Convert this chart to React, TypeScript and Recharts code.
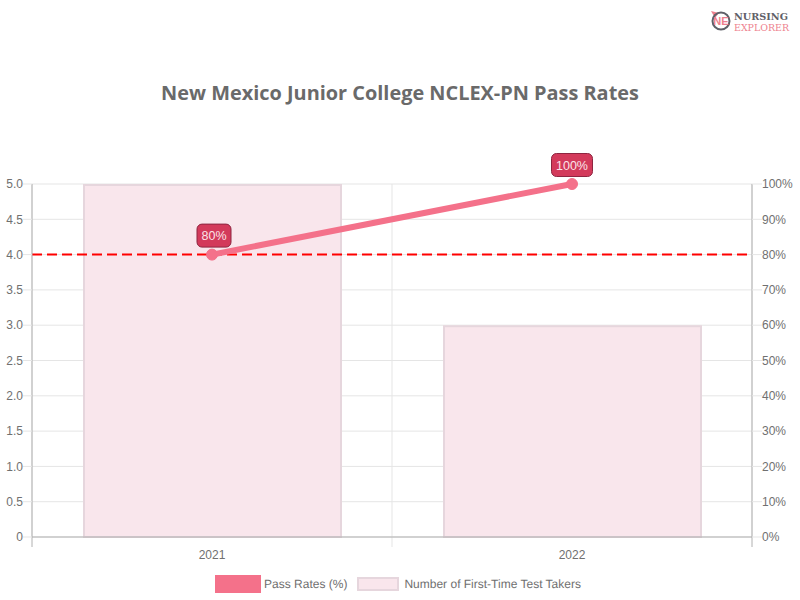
import React from 'react';
import {
    Bar,
    CartesianGrid,
    ComposedChart,
    Legend,
    LabelList,
    Line,
    ReferenceLine,
    XAxis,
    YAxis,
    usePlotArea,
} from 'recharts';

const years = ['2021', '2022'];
const testTakers = [5, 3];
const passRates = [80, 100];
const benchmark = 4;
const leftTicks = [0, 0.5, 1, 1.5, 2, 2.5, 3, 3.5, 4, 4.5, 5];
const rightTicks = [0, 10, 20, 30, 40, 50, 60, 70, 80, 90, 100];

const chartData = years.map((year, i) => ({
    year,
    takers: testTakers[i],
    rate: passRates[i],
}));

const FONT = '"Liberation Sans", Arial, sans-serif';
const TEXT = '#707070';
const GRID = '#e5e5e5';
const AXIS = '#b0b0b0';
const LINE_COLOR = '#f4718a';
const BAR_FILL = '#f9e6ec';
const BAR_STROKE = '#e6d6dd';

// boxes above the line points, chart.js datalabels style
const RateLabel = (props: any) => {
    const { x, y, value } = props;
    const short = String(value).length < 3;
    const w = short ? 34 : 41;
    const cx = short ? x + 2 : x;
    return (
        <g>
            <rect x={cx - w / 2} y={y - 30.5} width={w} height={23} rx={5} fill="#d33a5b" stroke="#8e2540" />
            <text x={cx} y={y - 14.5} textAnchor="middle" fontSize={12.5} fontFamily={FONT} fill="#fbe3e8">
                {value}%
            </text>
        </g>
    );
};

// chart.js draws the border inside the bar
const InsetBar = (props: any) => {
    const { x, y, width, height } = props;
    return (
        <rect
            x={x + 1}
            y={y + 1}
            width={width - 1}
            height={height - 1}
            fill={BAR_FILL}
            stroke={BAR_STROKE}
            strokeWidth={2}
        />
    );
};

// the category axis ticks sit on the band edges, not on the band centres
const BandTicks = () => {
    const plot = usePlotArea();
    if (!plot) return null;
    const band = plot.width / years.length;
    const bottom = plot.y + plot.height;
    return (
        <g>
            {[0, 1, 2].map((i) => (
                <line
                    key={i}
                    x1={plot.x + band * i}
                    x2={plot.x + band * i}
                    y1={bottom}
                    y2={bottom + 10}
                    stroke={i === 1 ? GRID : AXIS}
                />
            ))}
        </g>
    );
};

const ChartLegend = () => (
    <div
        style={{
            display: 'flex',
            justifyContent: 'center',
            alignItems: 'center',
            fontFamily: FONT,
            fontSize: 12,
            color: TEXT,
            height: 18,
            marginLeft: -4,
            textRendering: 'geometricPrecision',
        }}
    >
        <span style={{ width: 46, height: 18, background: LINE_COLOR, marginRight: 3 }} />
        <span style={{ marginRight: 10 }}>Pass Rates (%)</span>
        <span
            style={{
                width: 38,
                height: 10,
                background: BAR_FILL,
                border: `2px solid ${BAR_STROKE}`,
                marginRight: 5,
            }}
        />
        <span>Number of First-Time Test Takers</span>
    </div>
);

const Logo = () => (
    <svg width={90} height={30} style={{ position: 'absolute', left: 708, top: 7 }}>
        <path d="M3 4 L11 6 L7 11 Z" fill="#ee7f8e" />
        <circle cx={13} cy={14} r={8.5} fill="none" stroke="#5f6068" strokeWidth={2} />
        <text x={13} y={18} textAnchor="middle" fontSize={11} fontWeight={700} fontFamily={FONT} fill="#ee7f8e">
            NE
        </text>
        <text x={26} y={13} fontSize={9.5} fontWeight={700} fontFamily='"DejaVu Serif", serif' fill="#5f6068" textLength={54} lengthAdjust="spacingAndGlyphs">
            NURSING
        </text>
        <text x={26} y={24} fontSize={9} fontFamily='"DejaVu Serif", serif' fill="#ee7f8e" textLength={55} lengthAdjust="spacingAndGlyphs">
            EXPLORER
        </text>
    </svg>
);

const App = () => (
    <div style={{ position: 'absolute', left: 0, top: 0, width: 800, height: 600, background: '#fff' }}>
        <Logo />
        <div
            style={{
                position: 'absolute',
                top: 79,
                left: 0,
                width: 800,
                textAlign: 'center',
                fontFamily: '"Open Sans", sans-serif',
                fontWeight: 700,
                fontSize: 19.9,
                lineHeight: '27px',
                color: '#6a6a6a',
            }}
        >
            New Mexico Junior College NCLEX-PN Pass Rates
        </div>
        <ComposedChart
            width={800}
            height={600}
            data={chartData}
            margin={{ top: 184, right: 0, bottom: 0, left: 0 }}
            style={{ position: 'absolute', left: 0, top: 0 }}
        >
            <CartesianGrid
                yAxisId="left"
                stroke={GRID}
                verticalCoordinatesGenerator={({ offset }: any) => [
                    offset.left,
                    offset.left + offset.width / 2,
                    offset.left + offset.width,
                ]}
            />
            <XAxis
                dataKey="year"
                height={45}
                axisLine={{ stroke: AXIS }}
                tickLine={false}
                tickMargin={7}
                tick={{ fill: TEXT, fontSize: 12, fontFamily: FONT }}
            />
            <YAxis
                yAxisId="left"
                width={32}
                domain={[0, 5]}
                ticks={leftTicks}
                interval={0}
                axisLine={{ stroke: AXIS }}
                tickLine={{ stroke: GRID }}
                tickSize={9}
                tickMargin={0}
                tickFormatter={(v: number) => (v === 0 ? '0' : v.toFixed(1))}
                tick={{ fill: TEXT, fontSize: 12, fontFamily: FONT }}
            />
            <YAxis
                yAxisId="right"
                orientation="right"
                width={48}
                domain={[0, 100]}
                ticks={rightTicks}
                interval={0}
                axisLine={{ stroke: AXIS }}
                tickLine={{ stroke: GRID }}
                tickSize={10}
                tickMargin={0}
                tickFormatter={(v: number) => `${v}%`}
                tick={{ fill: TEXT, fontSize: 12, fontFamily: FONT }}
            />
            <Bar
                yAxisId="left"
                dataKey="takers"
                name="Number of First-Time Test Takers"
                barSize={258}
                shape={InsetBar}
                isAnimationActive={false}
            />
            <ReferenceLine yAxisId="left" y={benchmark} stroke="#ff0000" strokeWidth={2} strokeDasharray="10 5" />
            <Line
                yAxisId="right"
                dataKey="rate"
                name="Pass Rates (%)"
                stroke={LINE_COLOR}
                strokeWidth={6}
                dot={{ r: 5.5, fill: LINE_COLOR, stroke: LINE_COLOR, strokeWidth: 1 }}
                isAnimationActive={false}
            >
                <LabelList dataKey="rate" content={RateLabel} />
            </Line>
            <BandTicks />
            <Legend
                content={ChartLegend}
                wrapperStyle={{ position: 'absolute', left: 0, top: 575, width: 800 }}
            />
        </ComposedChart>
    </div>
);

export default App;
